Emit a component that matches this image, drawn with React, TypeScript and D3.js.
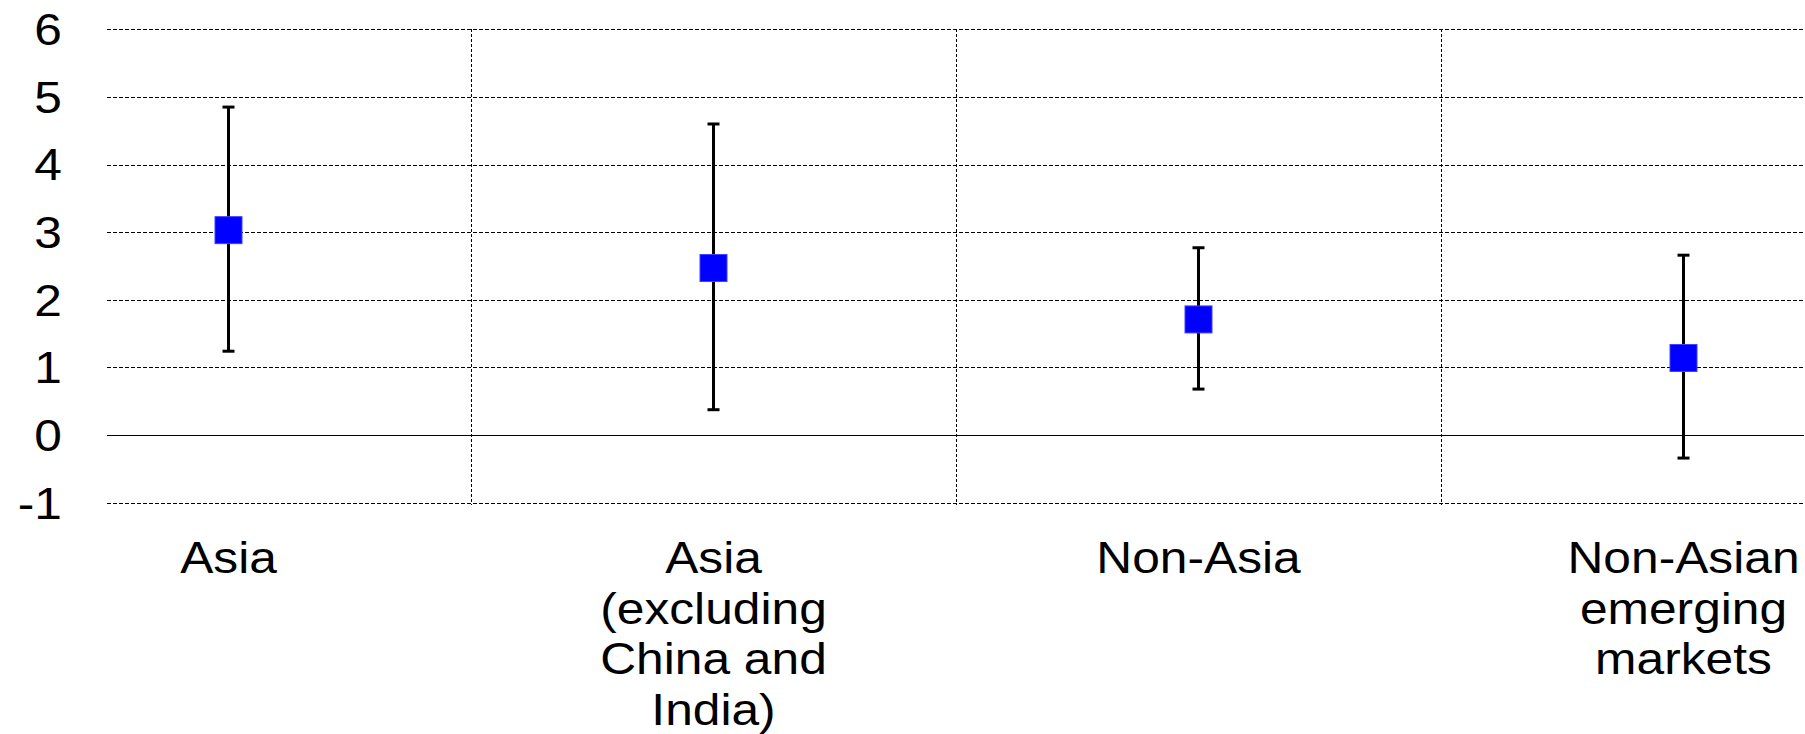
import React from "react";
import * as d3 from "d3";

const categories: string[][] = [
  ["Asia"],
  ["Asia", "(excluding", "China and", "India)"],
  ["Non-Asia"],
  ["Non-Asian", "emerging", "markets"],
];
const pointValues = [3.03, 2.47, 1.71, 1.14];
const upperValues = [4.85, 4.6, 2.77, 2.66];
const lowerValues = [1.24, 0.375, 0.68, -0.34];
const yTicks = [6, 5, 4, 3, 2, 1, 0, -1];

const W = 1805;
const H = 734;
const FONT = "'Liberation Sans', Arial, Helvetica, sans-serif";
const FS = 44;
const STRETCH = 1.13;

export default function App() {
  const y = d3.scaleLinear().domain([-1, 6]).range([502.7, 29.3]);
  const x = d3
    .scaleBand<number>()
    .domain(d3.range(categories.length))
    .range([-14, 1926])
    .paddingInner(0)
    .paddingOuter(0);
  const gridLeft = 107;
  const gridRight = 1804;
  const sq = 27;
  const capW = 12;
  // snap hairlines to the pixel grid so they render solid black
  const snap = (v: number) => Math.round(v) + 0.5;

  return (
    <div style={{ position: "absolute", left: 0, top: 0 }}>
      <svg width={W} height={H} style={{ display: "block", background: "#fff" }}>
        {/* horizontal gridlines */}
        {yTicks.map((t) => (
          <line
            key={"g" + t}
            x1={gridLeft}
            x2={gridRight}
            y1={snap(y(t))}
            y2={snap(y(t))}
            stroke="#000"
            strokeWidth={1}
            shapeRendering="crispEdges"
            strokeDasharray={t === 0 ? undefined : "4,2"}
          />
        ))}
        {/* category dividers */}
        {d3.range(1, categories.length).map((i) => (
          <line
            key={"v" + i}
            x1={snap(x(i)!)}
            x2={snap(x(i)!)}
            y1={y(6)}
            y2={y(-1) + 2}
            stroke="#000"
            strokeWidth={1}
            shapeRendering="crispEdges"
            strokeDasharray="3,2"
          />
        ))}
        {/* y tick labels */}
        {yTicks.map((t) => (
          <text
            key={"t" + t}
            transform={`translate(62,${y(t) + FS * 0.36}) scale(${STRETCH},1)`}
            textAnchor="end"
            fontFamily={FONT}
            fontSize={FS}
            fill="#000"
          >
            {t}
          </text>
        ))}
        {/* error bars and points */}
        {pointValues.map((v, i) => {
          const cx = x(i)! + x.bandwidth() / 2;
          return (
            <g key={"p" + i}>
              <line x1={cx} x2={cx} y1={y(upperValues[i])} y2={y(lowerValues[i])} stroke="#000" strokeWidth={3} />
              <line x1={cx - capW / 2} x2={cx + capW / 2} y1={y(upperValues[i])} y2={y(upperValues[i])} stroke="#000" strokeWidth={3} />
              <line x1={cx - capW / 2} x2={cx + capW / 2} y1={y(lowerValues[i])} y2={y(lowerValues[i])} stroke="#000" strokeWidth={3} />
              <rect
                x={cx - sq / 2}
                y={y(v) - sq / 2}
                width={sq}
                height={sq}
                fill="#0000ff"
                stroke="#4040ff"
                strokeWidth={1}
              />
            </g>
          );
        })}
        {/* category labels */}
        {categories.map((lines, i) => {
          const cx = x(i)! + x.bandwidth() / 2;
          return (
            <g key={"c" + i}>
              {lines.map((ln, j) => (
                <text
                  key={j}
                  transform={`translate(${cx},${573 + j * 50.7}) scale(${STRETCH},1)`}
                  textAnchor="middle"
                  fontFamily={FONT}
                  fontSize={FS}
                  fill="#000"
                >
                  {ln}
                </text>
              ))}
            </g>
          );
        })}
      </svg>
    </div>
  );
}
